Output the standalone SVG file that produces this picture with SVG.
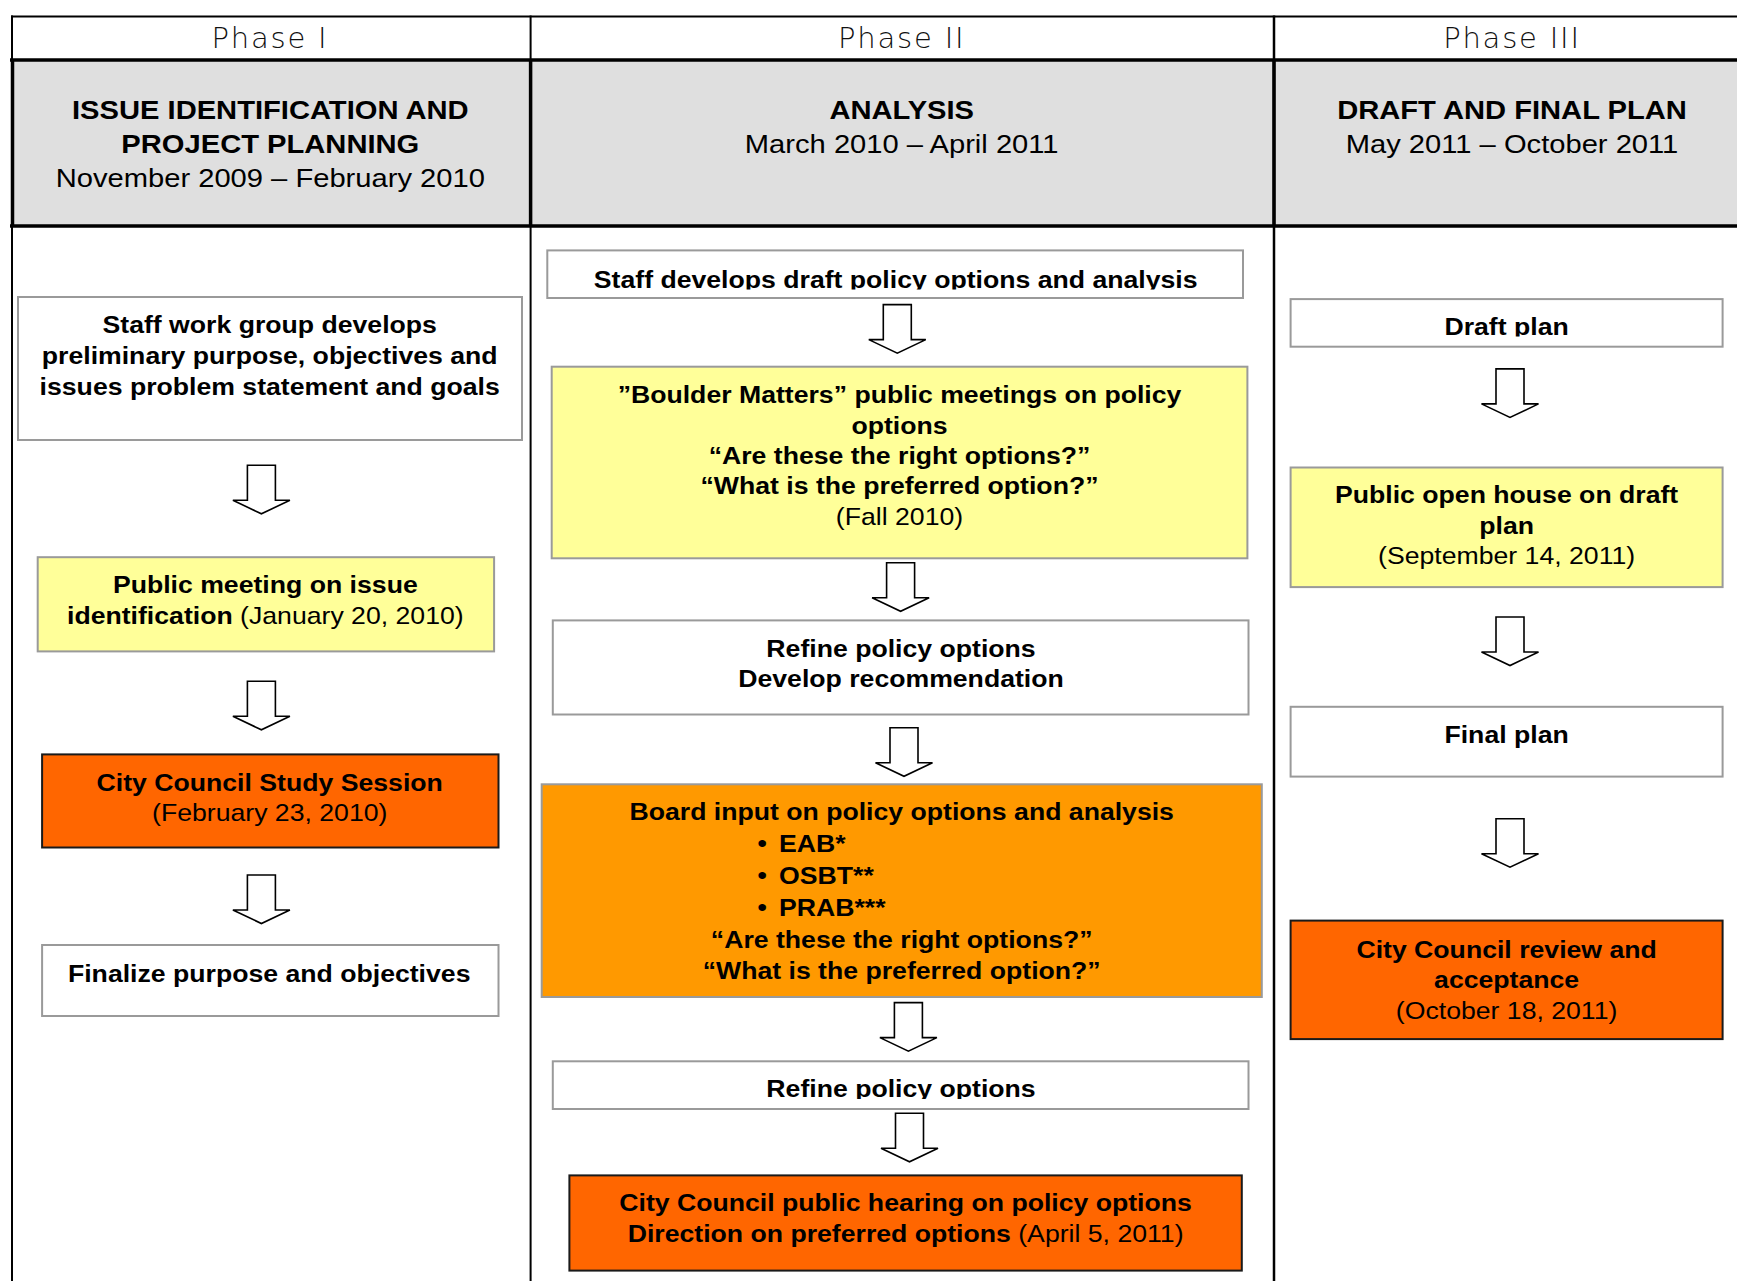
<svg xmlns="http://www.w3.org/2000/svg" width="1737" height="1281" viewBox="0 0 1737 1281">
<style>
.bg{fill:#ffffff}
.hdr{fill:#dfdfdf}
.ln{stroke:#000;fill:none}
.w{fill:#ffffff;stroke:#9a9a9a;stroke-width:2}
.y{fill:#ffff99;stroke:#9a9a9a;stroke-width:2}
.o1{fill:#ff6600;stroke:#1a1a1a;stroke-width:2}
.o2{fill:#ff9900;stroke:#9a9a9a;stroke-width:2}
.arr{fill:#ffffff;stroke:#000;stroke-width:1.6;stroke-linejoin:miter}
text{font-family:"Liberation Sans",Arial,sans-serif;fill:#000;text-anchor:middle}
.ph{font-family:"DejaVu Sans","Liberation Sans",sans-serif;font-weight:200;font-size:29px;letter-spacing:1.8px;fill:#111}
.ht{font-size:26.5px}
.b{font-size:24px;font-weight:bold}
.r{font-weight:normal}
.st{text-anchor:start}
</style>
<defs>
<path id="arrow" class="arr" d="M-14,0 H14 V35 H28.5 L0,48.5 L-28.5,35 H-14 Z"/>
<clipPath id="clipA"><rect x="540" y="250" width="710" height="39.5"/></clipPath>
<clipPath id="clipE"><rect x="540" y="1060" width="710" height="39"/></clipPath>
<clipPath id="clipD"><rect x="1285" y="299" width="445" height="37.5"/></clipPath>
</defs>
<rect class="bg" x="0" y="0" width="1737" height="1281"/>

<g id="table">
<rect class="hdr" x="12" y="60" width="1725" height="166"/>
<line class="ln" x1="11" y1="16.5" x2="1737" y2="16.5" stroke-width="2"/>
<line class="ln" x1="10" y1="60" x2="1737" y2="60" stroke-width="3.5"/>
<line class="ln" x1="10" y1="226" x2="1737" y2="226" stroke-width="3.5"/>
<line class="ln" x1="12" y1="15.5" x2="12" y2="1281" stroke-width="2"/>
<line class="ln" x1="12.5" y1="60" x2="12.5" y2="226" stroke-width="3.5"/>
<line class="ln" x1="530.6" y1="15.5" x2="530.6" y2="1281" stroke-width="2"/>
<line class="ln" x1="530.6" y1="60" x2="530.6" y2="226" stroke-width="3.5"/>
<line class="ln" x1="1274" y1="15.5" x2="1274" y2="1281" stroke-width="2.5"/>
<line class="ln" x1="1274" y1="60" x2="1274" y2="226" stroke-width="3.5"/>
</g>

<g id="phase1-header">
<text class="ph" x="270" y="48">Phase I</text>
<g transform="translate(270.3,0) scale(1.1,1)">
<text class="ht" font-weight="bold" x="0" y="119.5">ISSUE IDENTIFICATION AND</text>
<text class="ht" font-weight="bold" x="0" y="153">PROJECT PLANNING</text>
<text class="ht" x="0" y="187">November 2009 – February 2010</text>
</g>
</g>
<g id="phase2-header">
<text class="ph" x="901.7" y="48">Phase II</text>
<g transform="translate(901.7,0) scale(1.1,1)">
<text class="ht" font-weight="bold" x="0" y="119.5">ANALYSIS</text>
<text class="ht" x="0" y="153">March 2010 – April 2011</text>
</g>
</g>
<g id="phase3-header">
<text class="ph" x="1512" y="48">Phase III</text>
<g transform="translate(1512,0) scale(1.1,1)">
<text class="ht" font-weight="bold" x="0" y="119.5">DRAFT AND FINAL PLAN</text>
<text class="ht" x="0" y="153">May 2011 – October 2011</text>
</g>
</g>

<g id="connectors">
<use href="#arrow" x="261.4" y="465.3"/>
<use href="#arrow" x="261.4" y="681.3"/>
<use href="#arrow" x="261.4" y="875"/>
<use href="#arrow" x="897.3" y="304.6"/>
<use href="#arrow" x="900.6" y="562.8"/>
<use href="#arrow" x="904" y="727.8"/>
<use href="#arrow" x="908.4" y="1002.6"/>
<use href="#arrow" x="909.5" y="1113.3"/>
<use href="#arrow" x="1510" y="368.9"/>
<use href="#arrow" x="1510" y="617"/>
<use href="#arrow" x="1510" y="818.7"/>
</g>

<g id="p1-staff-work-group">
<rect class="w" x="18" y="297" width="504" height="143"/>
<g transform="translate(269.7,0) scale(1.11,1)">
<text class="b" x="0" y="333">Staff work group develops</text>
<text class="b" x="0" y="364">preliminary purpose, objectives and</text>
<text class="b" x="0" y="395">issues problem statement and goals</text>
</g>
</g>
<g id="p1-public-meeting">
<rect class="y" x="37.7" y="557.2" width="456.4" height="94.2"/>
<g transform="translate(265.3,0) scale(1.11,1)">
<text class="b" x="0" y="593">Public meeting on issue</text>
<text class="b" x="0" y="624">identification<tspan class="r"> (January 20, 2010)</tspan></text>
</g>
</g>
<g id="p1-study-session">
<rect class="o1" x="42.1" y="754.4" width="456.4" height="93.1"/>
<g transform="translate(269.7,0) scale(1.11,1)">
<text class="b" x="0" y="791">City Council Study Session</text>
<text class="b r" x="0" y="821">(February 23, 2010)</text>
</g>
</g>
<g id="p1-finalize">
<rect class="w" x="42.1" y="945" width="456.4" height="71"/>
<g transform="translate(269.2,0) scale(1.11,1)">
<text class="b" x="0" y="982">Finalize purpose and objectives</text>
</g>
</g>

<g id="p2-staff-draft">
<rect class="w" x="547.3" y="250.4" width="695.7" height="47.6"/>
<g clip-path="url(#clipA)">
<g transform="translate(895.7,0) scale(1.11,1)">
<text class="b" x="0" y="288">Staff develops draft policy options and analysis</text>
</g>
</g>
</g>
<g id="p2-boulder-matters">
<rect class="y" x="551.7" y="366.7" width="695.7" height="191.6"/>
<g transform="translate(899.5,0) scale(1.11,1)">
<text class="b" x="0" y="403">”Boulder Matters” public meetings on policy</text>
<text class="b" x="0" y="434">options</text>
<text class="b" x="0" y="464">“Are these the right options?”</text>
<text class="b" x="0" y="494">“What is the preferred option?”</text>
<text class="b r" x="0" y="525">(Fall 2010)</text>
</g>
</g>
<g id="p2-refine-develop">
<rect class="w" x="552.8" y="620.4" width="695.7" height="94.1"/>
<g transform="translate(901,0) scale(1.11,1)">
<text class="b" x="0" y="657">Refine policy options</text>
<text class="b" x="0" y="687">Develop recommendation</text>
</g>
</g>
<g id="p2-board-input">
<rect class="o2" x="541.7" y="784.3" width="720.1" height="212.7"/>
<g transform="translate(901.7,0) scale(1.11,1)">
<text class="b" x="0" y="820">Board input on policy options and analysis</text>
<text class="b st" x="-130" y="852">•</text>
<text class="b st" x="-110.5" y="852">EAB*</text>
<text class="b st" x="-130" y="884">•</text>
<text class="b st" x="-110.5" y="884">OSBT**</text>
<text class="b st" x="-130" y="916">•</text>
<text class="b st" x="-110.5" y="916">PRAB***</text>
<text class="b" x="0" y="948">“Are these the right options?”</text>
<text class="b" x="0" y="979">“What is the preferred option?”</text>
</g>
</g>
<g id="p2-refine">
<rect class="w" x="552.8" y="1061.3" width="695.7" height="47.7"/>
<g clip-path="url(#clipE)">
<g transform="translate(901,0) scale(1.11,1)">
<text class="b" x="0" y="1097">Refine policy options</text>
</g>
</g>
</g>
<g id="p2-public-hearing">
<rect class="o1" x="569.4" y="1175.4" width="672.4" height="95.2"/>
<g transform="translate(905.6,0) scale(1.11,1)">
<text class="b" x="0" y="1211">City Council public hearing on policy options</text>
<text class="b" x="0" y="1242">Direction on preferred options<tspan class="r"> (April 5, 2011)</tspan></text>
</g>
</g>

<g id="p3-draft-plan">
<rect class="w" x="1290.6" y="299.1" width="432" height="47.6"/>
<g clip-path="url(#clipD)">
<g transform="translate(1506.6,0) scale(1.11,1)">
<text class="b" x="0" y="335">Draft plan</text>
</g>
</g>
</g>
<g id="p3-open-house">
<rect class="y" x="1290.6" y="467.5" width="432" height="119.6"/>
<g transform="translate(1506.6,0) scale(1.11,1)">
<text class="b" x="0" y="503">Public open house on draft</text>
<text class="b" x="0" y="534">plan</text>
<text class="b r" x="0" y="564">(September 14, 2011)</text>
</g>
</g>
<g id="p3-final-plan">
<rect class="w" x="1290.6" y="706.8" width="432" height="69.8"/>
<g transform="translate(1506.6,0) scale(1.11,1)">
<text class="b" x="0" y="743">Final plan</text>
</g>
</g>
<g id="p3-council-review">
<rect class="o1" x="1290.6" y="920.6" width="432" height="118.5"/>
<g transform="translate(1506.6,0) scale(1.11,1)">
<text class="b" x="0" y="958">City Council review and</text>
<text class="b" x="0" y="988">acceptance</text>
<text class="b r" x="0" y="1019">(October 18, 2011)</text>
</g>
</g>
</svg>
